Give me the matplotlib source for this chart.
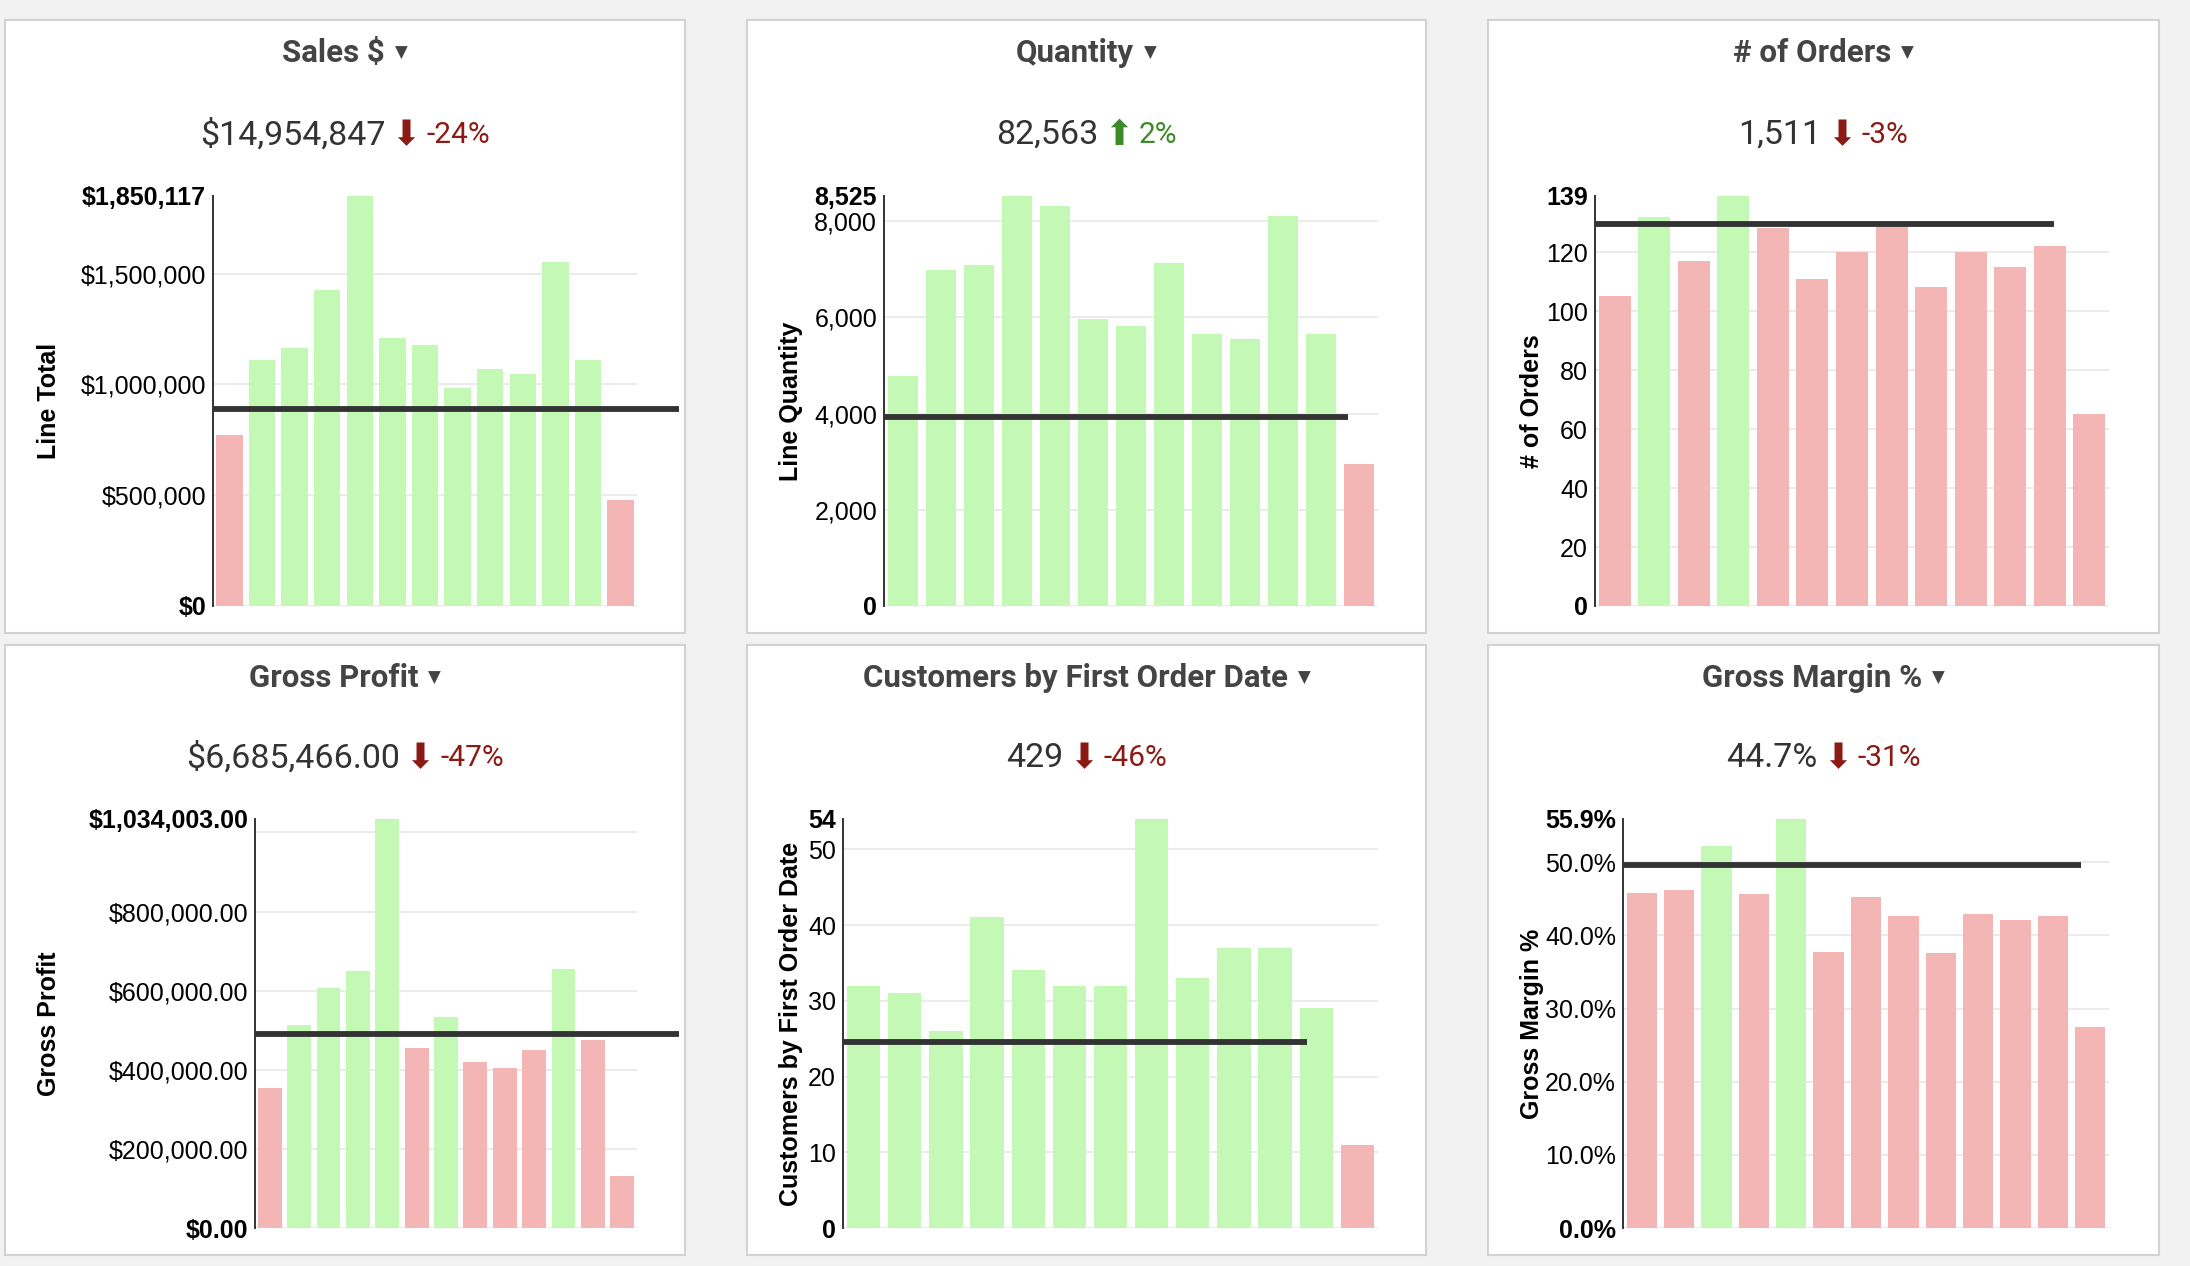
import matplotlib
matplotlib.use("Agg")
import matplotlib.pyplot as plt
from matplotlib.patches import Rectangle
from matplotlib.offsetbox import TextArea, HPacker, AnnotationBbox

# ---- data (13 periods per card) ----
sales = [773000, 1110500, 1163000, 1427000, 1850117, 1208000, 1178000,
         983000, 1071000, 1047000, 1553230, 1112000, 479000]
sales_ref = 887000

quantity = [4790, 6985, 7100, 8525, 8310, 5965, 5830, 7135, 5650, 5550, 8110, 5660, 2953]
quantity_ref = 3932

orders = [105, 132, 117, 139, 128, 111, 120, 129, 108, 120, 115, 122, 65]
orders_ref = 129.4

profit = [354000, 514000, 608000, 650000, 1034003, 455500, 534300,
          419500, 404200, 449200, 655200, 476000, 131563]
profit_ref = 490800

customers = [32, 31, 26, 41, 34, 32, 32, 54, 33, 37, 37, 29, 11]
customers_ref = 24.5

margin = [45.8, 46.2, 52.2, 45.6, 55.9, 37.7, 45.3, 42.6, 37.6, 42.9, 42.1, 42.7, 27.5]
margin_ref = 49.6

titles = ["Sales $", "Quantity", "# of Orders", "Gross Profit",
          "Customers by First Order Date", "Gross Margin %"]
ylabels = ["Line Total", "Line Quantity", "# of Orders", "Gross Profit",
           "Customers by First Order Date", "Gross Margin %"]
kpi_values = ["$14,954,847", "82,563", "1,511", "$6,685,466.00", "429", "44.7%"]
kpi_changes = ["-24%", "2%", "-3%", "-47%", "-46%", "-31%"]
grid_ticks = [
    [0, 500000, 1000000, 1500000],
    [0, 2000, 4000, 6000, 8000],
    [0, 20, 40, 60, 80, 100, 120],
    [0, 200000, 400000, 600000, 800000, 1000000],
    [0, 10, 20, 30, 40, 50],
    [0, 10, 20, 30, 40, 50],
]
label_ticks = [
    [500000, 1000000, 1500000],
    [2000, 4000, 6000, 8000],
    [20, 40, 60, 80, 100, 120],
    [200000, 400000, 600000, 800000],
    [10, 20, 30, 40, 50],
    [10, 20, 30, 40, 50],
]
formats = [
    lambda v: "${:,.0f}".format(v),
    lambda v: "{:,.0f}".format(v),
    lambda v: "{:,.0f}".format(v),
    lambda v: "${:,.2f}".format(v),
    lambda v: "{:,.0f}".format(v),
    lambda v: "{:.1f}%".format(v),
]
series = [sales, quantity, orders, profit, customers, margin]
refs = [sales_ref, quantity_ref, orders_ref, profit_ref, customers_ref, margin_ref]

# ---- layout (pixels) ----
W, H = 2190, 1266
panels = [(5, 20, 685, 633), (747, 20, 1426, 633), (1488, 20, 2159, 633),
          (5, 645, 685, 1255), (747, 645, 1426, 1255), (1488, 645, 2159, 1255)]
axes_px = [(213, 196, 637, 606), (884, 196, 1378, 606), (1595, 196, 2109, 606),
           (255, 819, 637, 1228), (843, 819, 1378, 1228), (1623, 819, 2109, 1228)]
title_y = [53, 53, 53, 678, 678, 678]
kpi_y = [135, 135, 135, 758, 758, 758]
line_end = [1.099, 0.939, 0.893, 1.11, 0.867, 0.942]

GREEN = "#c3f9b5"
RED = "#f4b5b5"
DOWN = "#8b1a14"
UP = "#3c8a28"
AXFONT = "Liberation Sans"

fig = plt.figure(figsize=(W / 100, H / 100), dpi=100)
fig.patch.set_facecolor("#f2f2f2")


def fx(x):
    return x / W


def fy(y):
    return 1 - y / H


for i in range(6):
    x0, y0, x1, y1 = panels[i]
    fig.patches.append(Rectangle((fx(x0), fy(y1)), fx(x1 - x0), (y1 - y0) / H,
                                 transform=fig.transFigure, facecolor="white",
                                 edgecolor="#d2d2d2", linewidth=1.5, zorder=-5))
    cx = (x0 + x1) / 2

    # title with dropdown caret
    tbox = HPacker(children=[
        TextArea(titles[i], textprops=dict(fontsize=22.5, fontweight="bold", color="#444444", family="Roboto")),
        TextArea("\u25bc", textprops=dict(fontsize=12, color="#444444", family="DejaVu Sans")),
    ], align="center", pad=0, sep=7)
    fig.add_artist(AnnotationBbox(tbox, (fx(cx), fy(title_y[i])), xycoords="figure fraction",
                                  frameon=False, box_alignment=(0.5, 0.5)))

    # KPI line
    down = kpi_changes[i].startswith("-")
    col = DOWN if down else UP
    kbox = HPacker(children=[
        TextArea(kpi_values[i], textprops=dict(fontsize=24.5, color="#333333", family="Roboto")),
        TextArea("\u2b07" if down else "\u2b06", textprops=dict(fontsize=25, color=col, family="DejaVu Sans")),
        TextArea(kpi_changes[i], textprops=dict(fontsize=21.5, color=col, family="Roboto")),
    ], align="center", pad=0, sep=4)
    fig.add_artist(AnnotationBbox(kbox, (fx(cx), fy(kpi_y[i])), xycoords="figure fraction",
                                  frameon=False, box_alignment=(0.5, 0.5)))

    # chart
    ax0, ay0, ax1, ay1 = axes_px[i]
    ax = fig.add_axes([fx(ax0), fy(ay1), fx(ax1 - ax0), (ay1 - ay0) / H])
    ax.set_facecolor("none")
    vals = series[i]
    ref = refs[i]
    top = max(vals)
    colors = [GREEN if v > ref else RED for v in vals]
    ax.bar(range(len(vals)), vals, width=0.81, color=colors, zorder=2)
    ax.set_xlim(-0.5, len(vals) - 0.5)
    ax.set_ylim(0, top)
    ax.hlines(grid_ticks[i], -0.5, len(vals) - 0.5, color="#e8e8e8", linewidth=1.2, zorder=1)
    ax.plot([0, line_end[i]], [ref, ref], transform=ax.get_yaxis_transform(),
            color="#333333", linewidth=4.2, clip_on=False, zorder=3, solid_capstyle="butt")

    ticks = [0] + label_ticks[i] + [top]
    ax.set_yticks(ticks)
    ax.set_yticklabels([formats[i](t) for t in ticks], family=AXFONT, fontsize=18)
    for lab in (ax.get_yticklabels()[0], ax.get_yticklabels()[-1]):
        lab.set_fontweight("bold")
    ax.tick_params(axis="y", length=0, pad=5, colors="black")
    ax.set_xticks([])
    for s in ("top", "right", "bottom"):
        ax.spines[s].set_visible(False)
    ax.spines["left"].set_color("#333333")
    ax.spines["left"].set_linewidth(1.4)

    fig.text(fx(x0 + 44), fy((ay0 + ay1) / 2), ylabels[i], rotation=90, ha="center", va="center",
             fontsize=18, fontweight="bold", family=AXFONT, color="black")

fig.savefig("out.png", dpi=100, facecolor=fig.get_facecolor())
